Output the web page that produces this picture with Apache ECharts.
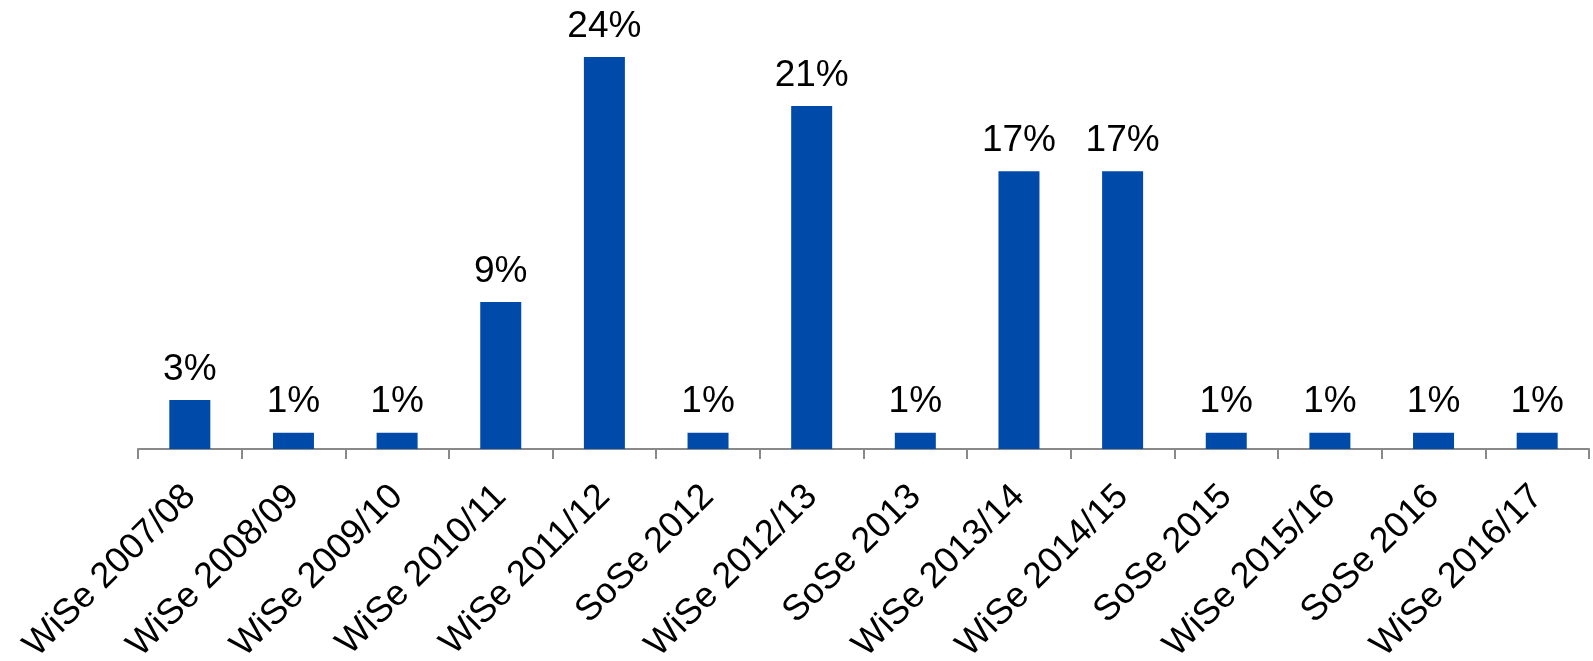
<!DOCTYPE html>
<html>
<head>
<meta charset="utf-8">
<script src="https://cdn.jsdelivr.net/npm/echarts@6/dist/echarts.min.js"></script>
<style>
  html, body { margin: 0; padding: 0; background: #fff; }
  #chart { width: 1593px; height: 661px; }
</style>
</head>
<body>
<div id="chart"></div>
<script>
// semesters on the x axis
const semesters = [
  'WiSe 2007/08', 'WiSe 2008/09', 'WiSe 2009/10', 'WiSe 2010/11', 'WiSe 2011/12',
  'SoSe 2012', 'WiSe 2012/13', 'SoSe 2013', 'WiSe 2013/14', 'WiSe 2014/15',
  'SoSe 2015', 'WiSe 2015/16', 'SoSe 2016', 'WiSe 2016/17'
]
// share in percent
const shares = [3, 1, 1, 9, 24, 1, 21, 1, 17, 17, 1, 1, 1, 1]

const chart = echarts.init(document.getElementById('chart'))
chart.setOption({
  animation: false,
  textStyle: { fontFamily: 'Liberation Sans, Arial, sans-serif' },
  grid: { left: 138, right: 4, top: 8, bottom: 212, outerBoundsMode: 'none', containLabel: false },
  xAxis: {
    type: 'category',
    data: semesters,
    axisLine: { lineStyle: { color: '#898989', width: 2 } },
    axisTick: { show: true, length: 10, alignWithLabel: false, lineStyle: { color: '#898989', width: 2 } },
    axisLabel: {
      rotate: 45,
      margin: 42,
      fontSize: 36,
      color: '#000'
    }
  },
  yAxis: {
    type: 'value',
    min: 0,
    max: 27,
    show: false,
    splitLine: { show: false }
  },
  series: [{
    type: 'bar',
    data: shares,
    barWidth: 41,
    itemStyle: { color: '#004BAA' },
    label: {
      show: true,
      position: 'top',
      distance: 12,
      fontSize: 37,
      color: '#000',
      formatter: '{c}%'
    }
  }]
})
</script>
</body>
</html>
